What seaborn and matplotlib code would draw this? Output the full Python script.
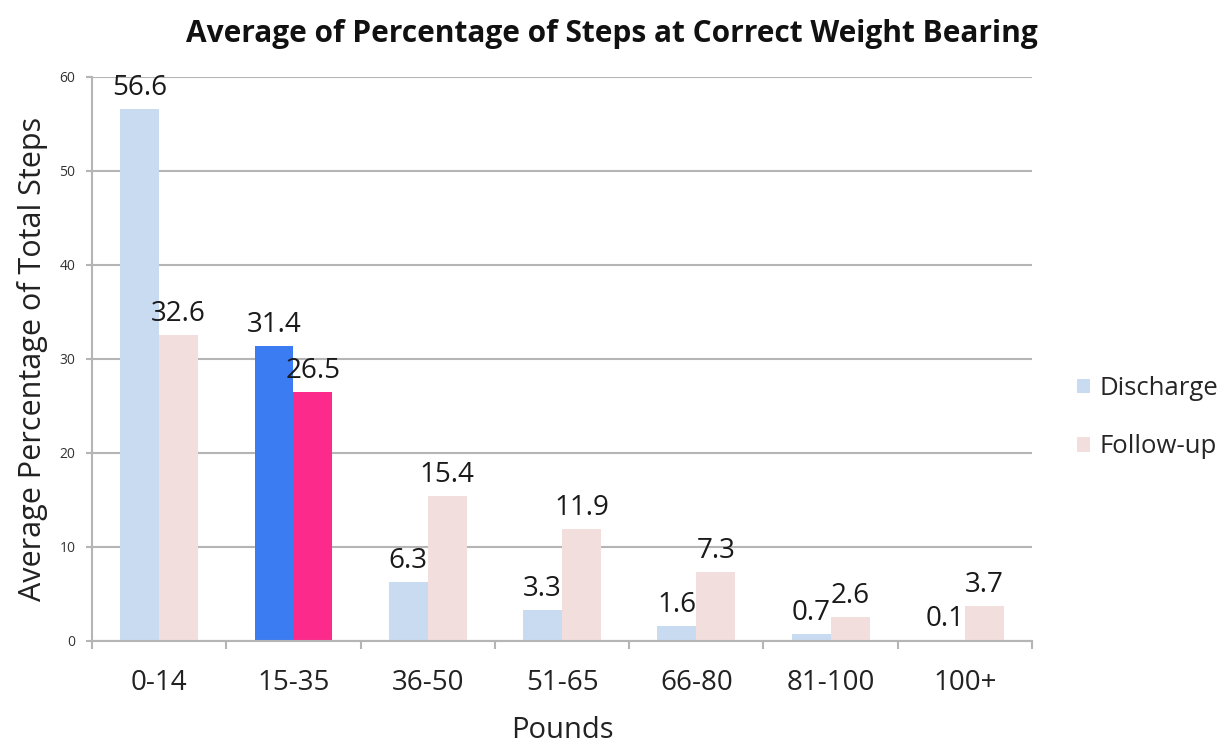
import numpy as np
import pandas as pd
import matplotlib
matplotlib.use("Agg")
import matplotlib.pyplot as plt
import seaborn as sns
from matplotlib.patches import Patch

# Chart data
categories = ["0-14", "15-35", "36-50", "51-65", "66-80", "81-100", "100+"]
discharge = [56.6, 31.4, 6.3, 3.3, 1.6, 0.7, 0.1]
follow_up = [32.6, 26.5, 15.4, 11.9, 7.3, 2.6, 3.7]
series = ["Discharge", "Follow-up"]
highlight = "15-35"

light_colors = ["#c9dbf0", "#f2dedc"]
dark_colors = ["#3b7cf3", "#fc2a8a"]

df = pd.DataFrame({
    "Pounds": categories * 2,
    "value": discharge + follow_up,
    "series": [series[0]] * len(categories) + [series[1]] * len(categories),
})

sns.set_style("white")
plt.rcParams["font.family"] = ["Open Sans", "DejaVu Sans"]

fig = plt.figure(figsize=(12.32, 7.46), dpi=100)
ax = fig.add_axes([0.0747, 0.1408, 0.763, 0.756])

sns.barplot(data=df, x="Pounds", y="value", hue="series", order=categories,
            hue_order=series, palette=light_colors, width=0.58,
            saturation=1, legend=False, ax=ax)

# recolor the highlighted group and add value labels
for i, cont in enumerate(ax.containers):
    for j, bar in enumerate(cont):
        if categories[j] == highlight:
            bar.set_facecolor(dark_colors[i])
        bar.set_edgecolor("none")
    ax.bar_label(cont, labels=[f"{v:.1f}" for v in cont.datavalues],
                 padding=5, fontsize=20, color="#1a1a1a")

ax.set_ylim(0, 60)
ax.set_xlim(-0.5, len(categories) - 0.5)
ax.set_yticks(range(0, 61, 10))
ax.yaxis.grid(True, color="#b5b5b5", linewidth=1.5)
ax.set_axisbelow(True)

for s in ["top", "right"]:
    ax.spines[s].set_visible(False)
for s in ["left", "bottom"]:
    ax.spines[s].set_color("#b5b5b5")
    ax.spines[s].set_linewidth(1.5)

ax.tick_params(axis="y", labelsize=10, colors="#b5b5b5", labelcolor="#333333",
               length=4, width=1.5, direction="out", left=True, pad=8)
ax.tick_params(axis="x", which="major", length=0, labelsize=20,
               labelcolor="#222222", pad=20)
ax.set_xticks(np.arange(-0.5, len(categories)), minor=True)
ax.tick_params(axis="x", which="minor", length=6, width=1.5,
               color="#b5b5b5", direction="out", bottom=True)

ax.set_xlabel("Pounds", fontsize=21, color="#222222", labelpad=14)
ax.set_ylabel("Average Percentage of Total Steps", fontsize=22,
              color="#222222", labelpad=8)

fig.suptitle("Average of Percentage of Steps at Correct Weight Bearing",
             x=0.497, y=0.975, fontsize=21.5, fontweight="bold", color="#111111")

handles = [Patch(facecolor=c, edgecolor="none") for c in light_colors]
fig.legend(handles, series, loc="center left", bbox_to_anchor=(0.874, 0.44),
           frameon=False, fontsize=18.5, handlelength=0.5, handleheight=0.5,
           handletextpad=0.4, labelspacing=1.3, borderpad=0, borderaxespad=0)

fig.savefig("out.png", dpi=100)
